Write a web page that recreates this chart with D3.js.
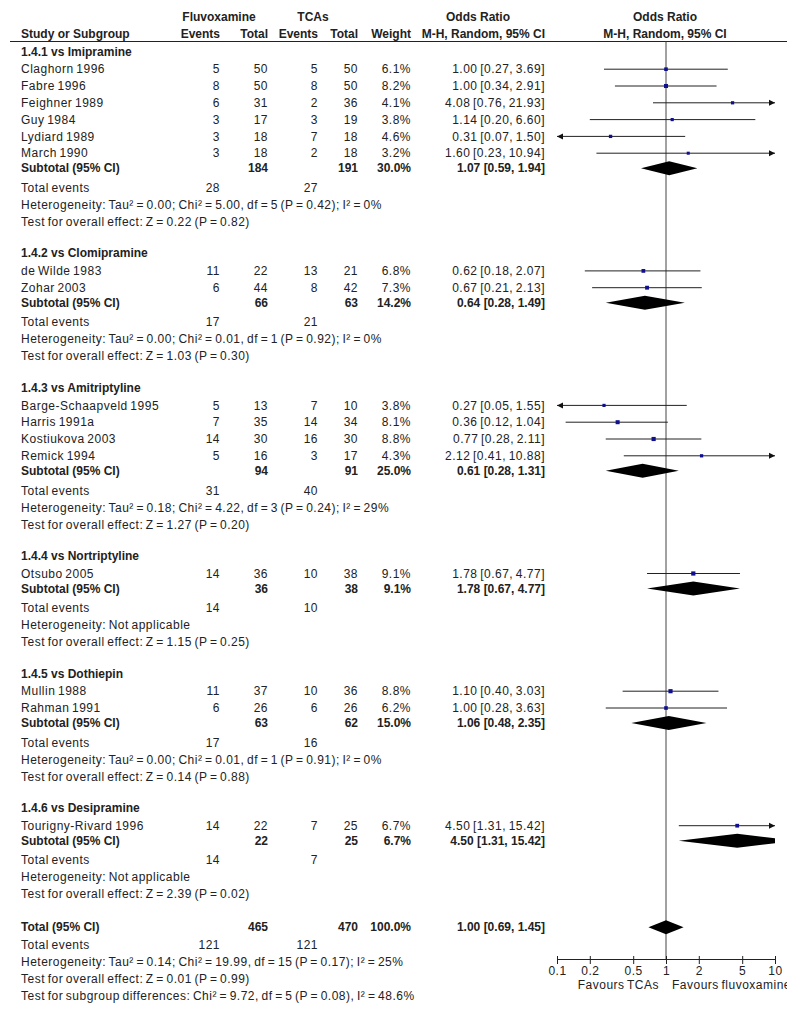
<!DOCTYPE html>
<html>
<head>
<meta charset="utf-8">
<script src="https://cdnjs.cloudflare.com/ajax/libs/d3/7.8.5/d3.min.js"></script>
<style>
body { margin: 0; background: #fff; }
svg { display: block; font-family: "Liberation Sans", Arial, sans-serif; font-size: 12px; }
text { fill: #222; }
.reg { letter-spacing: 0.5px; word-spacing: -1.2px; }
.b { font-weight: bold; }
</style>
</head>
<body>
<svg id="chart" width="800" height="1020"></svg>
<script>
var groups = ["1.4.1 vs Imipramine", "1.4.2 vs Clomipramine", "1.4.3 vs Amitriptyline",
    "1.4.4 vs Nortriptyline", "1.4.5 vs Dothiepin", "1.4.6 vs Desipramine"];

var studies = ["Claghorn 1996", "Fabre 1996", "Feighner 1989", "Guy 1984", "Lydiard 1989", "March 1990",
    "de Wilde 1983", "Zohar 2003",
    "Barge-Schaapveld 1995", "Harris 1991a", "Kostiukova 2003", "Remick 1994",
    "Otsubo 2005",
    "Mullin 1988", "Rahman 1991",
    "Tourigny-Rivard 1996"];
var studyGroup = [0, 0, 0, 0, 0, 0, 1, 1, 2, 2, 2, 2, 3, 4, 4, 5];
var fluEvents = [5, 8, 6, 3, 3, 3, 11, 6, 5, 7, 14, 5, 14, 11, 6, 14];
var fluTotal = [50, 50, 31, 17, 18, 18, 22, 44, 13, 35, 30, 16, 36, 37, 26, 22];
var tcaEvents = [5, 8, 2, 3, 7, 2, 13, 8, 7, 14, 16, 3, 10, 10, 6, 7];
var tcaTotal = [50, 50, 36, 19, 18, 18, 21, 42, 10, 34, 30, 17, 38, 36, 26, 25];
var weights = [6.1, 8.2, 4.1, 3.8, 4.6, 3.2, 6.8, 7.3, 3.8, 8.1, 8.8, 4.3, 9.1, 8.8, 6.2, 6.7];
var orEst = [1.00, 1.00, 4.08, 1.14, 0.31, 1.60, 0.62, 0.67, 0.27, 0.36, 0.77, 2.12, 1.78, 1.10, 1.00, 4.50];
var orLow = [0.27, 0.34, 0.76, 0.20, 0.07, 0.23, 0.18, 0.21, 0.05, 0.12, 0.28, 0.41, 0.67, 0.40, 0.28, 1.31];
var orHigh = [3.69, 2.91, 21.93, 6.60, 1.50, 10.94, 2.07, 2.13, 1.55, 1.04, 2.11, 10.88, 4.77, 3.03, 3.63, 15.42];

// subgroup summaries
var subFluTotal = [184, 66, 94, 36, 63, 22];
var subTcaTotal = [191, 63, 91, 38, 62, 25];
var subWeight = [30.0, 14.2, 25.0, 9.1, 15.0, 6.7];
var subEst = [1.07, 0.64, 0.61, 1.78, 1.06, 4.50];
var subLow = [0.59, 0.28, 0.28, 0.67, 0.48, 1.31];
var subHigh = [1.94, 1.49, 1.31, 4.77, 2.35, 15.42];
var subFluEvents = [28, 17, 31, 14, 17, 14];
var subTcaEvents = [27, 21, 40, 10, 16, 7];
var subHet = [
    "Heterogeneity: Tau² = 0.00; Chi² = 5.00, df = 5 (P = 0.42); I² = 0%",
    "Heterogeneity: Tau² = 0.00; Chi² = 0.01, df = 1 (P = 0.92); I² = 0%",
    "Heterogeneity: Tau² = 0.18; Chi² = 4.22, df = 3 (P = 0.24); I² = 29%",
    "Heterogeneity: Not applicable",
    "Heterogeneity: Tau² = 0.00; Chi² = 0.01, df = 1 (P = 0.91); I² = 0%",
    "Heterogeneity: Not applicable"];
var subTest = [
    "Test for overall effect: Z = 0.22 (P = 0.82)",
    "Test for overall effect: Z = 1.03 (P = 0.30)",
    "Test for overall effect: Z = 1.27 (P = 0.20)",
    "Test for overall effect: Z = 1.15 (P = 0.25)",
    "Test for overall effect: Z = 0.14 (P = 0.88)",
    "Test for overall effect: Z = 2.39 (P = 0.02)"];

// overall
var totFluTotal = 465, totTcaTotal = 470, totWeight = 100.0;
var totEst = 1.00, totLow = 0.69, totHigh = 1.45;
var totFluEvents = 121, totTcaEvents = 121;
var totNotes = [
    "Heterogeneity: Tau² = 0.14; Chi² = 19.99, df = 15 (P = 0.17); I² = 25%",
    "Test for overall effect: Z = 0.01 (P = 0.99)",
    "Test for subgroup differences: Chi² = 9.72, df = 5 (P = 0.08), I² = 48.6%"];

var tickVals = [0.1, 0.2, 0.5, 1, 2, 5, 10];

// column positions
var col = { study: 21, ev1: 220, tot1: 268, ev2: 318, tot2: 358, wt: 411, ci: 545 };

var svg = d3.select("#chart");
var x = d3.scaleLog().domain([0.1, 10]).range([557, 775]);
var fmt2 = d3.format(".2f"), fmtW = d3.format(".1f");

// build the row layout
var rows = [];
var y = 51.5;
groups.forEach(function (g, gi) {
    if (gi > 0) y += 31.5;
    rows.push({ type: "group", y: y, label: g });
    d3.range(studies.length).filter(i => studyGroup[i] === gi).forEach(function (i, k) {
        y += k === 0 ? 17.7 : 16.8;
        rows.push({ type: "study", y: y, i: i });
    });
    y += 15;
    rows.push({ type: "sub", y: y, label: "Subtotal (95% CI)", t1: subFluTotal[gi], t2: subTcaTotal[gi],
        w: subWeight[gi], est: subEst[gi], lo: subLow[gi], hi: subHigh[gi] });
    y += 19.5;
    rows.push({ type: "events", y: y, e1: subFluEvents[gi], e2: subTcaEvents[gi] });
    y += 17;
    rows.push({ type: "note", y: y, text: subHet[gi] });
    y += 17;
    rows.push({ type: "note", y: y, text: subTest[gi] });
});
y += 33;
rows.push({ type: "sub", y: y, label: "Total (95% CI)", t1: totFluTotal, t2: totTcaTotal,
    w: totWeight, est: totEst, lo: totLow, hi: totHigh });
y += 18;
rows.push({ type: "events", y: y, e1: totFluEvents, e2: totTcaEvents });
totNotes.forEach(function (t) {
    y += 17;
    rows.push({ type: "note", y: y, text: t });
});

function txt(g, xx, yy, s, anchor, cls) {
    return g.append("text")
        .attr("x", xx).attr("y", yy).attr("dy", "0.35em")
        .attr("text-anchor", anchor || "start")
        .attr("class", cls || "reg")
        .text(s);
}

// header
var head = svg.append("g");
txt(head, 219, 17, "Fluvoxamine", "middle", "b");
txt(head, 313, 17, "TCAs", "middle", "b");
txt(head, 478, 17, "Odds Ratio", "middle", "b");
txt(head, 665, 17, "Odds Ratio", "middle", "b");
txt(head, col.study, 34, "Study or Subgroup", "start", "b");
txt(head, col.ev1, 34, "Events", "end", "b");
txt(head, col.tot1, 34, "Total", "end", "b");
txt(head, col.ev2, 34, "Events", "end", "b");
txt(head, col.tot2, 34, "Total", "end", "b");
txt(head, col.wt, 34, "Weight", "end", "b");
txt(head, col.ci, 34, "M-H, Random, 95% CI", "end", "b");
txt(head, 665, 34, "M-H, Random, 95% CI", "middle", "b");
head.append("line")
    .attr("x1", 10).attr("x2", 787).attr("y1", 41.5).attr("y2", 41.5)
    .attr("stroke", "#222").attr("stroke-width", 1);

// clip for diamonds beyond the axis range
svg.append("clipPath").attr("id", "plotclip")
    .append("rect").attr("x", x(0.1)).attr("y", 0).attr("width", x(10) - x(0.1)).attr("height", 1020);

// line of no effect
svg.append("line")
    .attr("x1", x(1)).attr("x2", x(1)).attr("y1", 41.5).attr("y2", 959)
    .attr("stroke", "#444").attr("stroke-width", 1);

var body = svg.append("g");
var plot = svg.append("g");

rows.forEach(function (r) {
    if (r.type === "group") {
        txt(body, col.study, r.y, r.label, "start", "b");
    } else if (r.type === "study") {
        var i = r.i;
        txt(body, col.study, r.y, studies[i]);
        txt(body, col.ev1, r.y, fluEvents[i], "end");
        txt(body, col.tot1, r.y, fluTotal[i], "end");
        txt(body, col.ev2, r.y, tcaEvents[i], "end");
        txt(body, col.tot2, r.y, tcaTotal[i], "end");
        txt(body, col.wt, r.y, fmtW(weights[i]) + "%", "end");
        txt(body, col.ci, r.y, fmt2(orEst[i]) + " [" + fmt2(orLow[i]) + ", " + fmt2(orHigh[i]) + "]", "end");

        var lo = Math.max(orLow[i], 0.1), hi = Math.min(orHigh[i], 10);
        plot.append("line")
            .attr("x1", x(lo)).attr("x2", x(hi)).attr("y1", r.y).attr("y2", r.y)
            .attr("stroke", "#222").attr("stroke-width", 1);
        if (orHigh[i] > 10) {
            var xr = x(10);
            plot.append("path")
                .attr("d", "M" + xr + "," + r.y + "L" + (xr - 6) + "," + (r.y - 3) + "L" + (xr - 6) + "," + (r.y + 3) + "Z")
                .attr("fill", "#111");
        }
        if (orLow[i] < 0.1) {
            var xl = x(0.1);
            plot.append("path")
                .attr("d", "M" + xl + "," + r.y + "L" + (xl + 6) + "," + (r.y - 3) + "L" + (xl + 6) + "," + (r.y + 3) + "Z")
                .attr("fill", "#111");
        }
        var s = 2.4 + weights[i] * 0.2;
        plot.append("rect")
            .attr("x", x(orEst[i]) - s / 2).attr("y", r.y - s / 2)
            .attr("width", s).attr("height", s)
            .attr("fill", "#10108c");
    } else if (r.type === "sub") {
        txt(body, col.study, r.y, r.label, "start", "b");
        txt(body, col.tot1, r.y, r.t1, "end", "b");
        txt(body, col.tot2, r.y, r.t2, "end", "b");
        txt(body, col.wt, r.y, fmtW(r.w) + "%", "end", "b");
        txt(body, col.ci, r.y, fmt2(r.est) + " [" + fmt2(r.lo) + ", " + fmt2(r.hi) + "]", "end", "b");
        plot.append("path")
            .attr("d", "M" + x(r.lo) + "," + r.y + "L" + x(r.est) + "," + (r.y - 7) +
                "L" + x(r.hi) + "," + r.y + "L" + x(r.est) + "," + (r.y + 7) + "Z")
            .attr("clip-path", "url(#plotclip)")
            .attr("fill", "#000");
    } else if (r.type === "events") {
        txt(body, col.study, r.y, "Total events");
        txt(body, col.ev1, r.y, r.e1, "end");
        txt(body, col.ev2, r.y, r.e2, "end");
    } else {
        txt(body, col.study, r.y, r.text);
    }
});

// axis
var axis = svg.append("g")
    .attr("transform", "translate(0,959)")
    .call(d3.axisBottom(x).tickValues(tickVals).tickFormat(d3.format("")).tickSizeOuter(0).tickSize(5));
axis.select(".domain").attr("stroke", "#222");
axis.selectAll(".tick line").attr("y1", -3).attr("stroke", "#222");
axis.selectAll(".tick text")
    .attr("y", 16).attr("dy", "0")
    .attr("class", "reg")
    .style("font-family", "inherit").style("font-size", "12px").attr("fill", "#222");

svg.append("clipPath").attr("id", "edgeclip")
    .append("rect").attr("x", 0).attr("y", 0).attr("width", 787).attr("height", 1020);
txt(svg, 659, 985, "Favours TCAs", "end");
txt(svg, 672, 985, "Favours fluvoxamine", "start").attr("clip-path", "url(#edgeclip)");
</script>
</body>
</html>
